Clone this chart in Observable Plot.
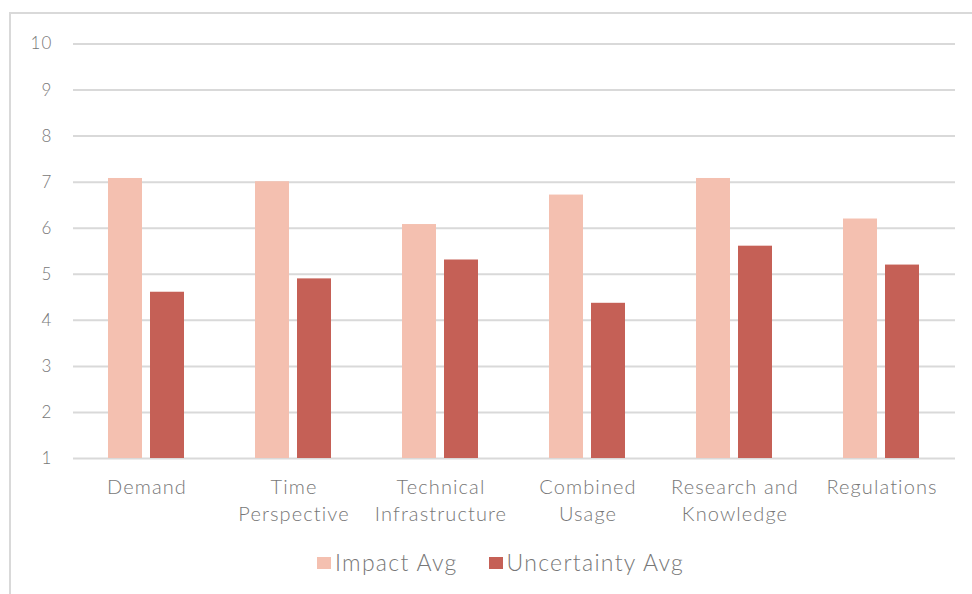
<!DOCTYPE html>
<html>
<head>
<meta charset="utf-8">
<script src="https://cdn.jsdelivr.net/npm/d3@7"></script>
<script src="https://cdn.jsdelivr.net/npm/@observablehq/plot@0.6"></script>
<style>
  html, body { margin: 0; padding: 0; background: #fff; }
  body { width: 972px; height: 594px; position: relative; overflow: hidden; font-family: Lato, "Open Sans", sans-serif; }
  #frame { position: absolute; left: 9px; top: 12px; width: 1000px; height: 700px; border-top: 2px solid #d9d9d9; border-left: 2px solid #d9d9d9; box-sizing: border-box; }
  #chart { position: absolute; left: 0; top: 0; }
  #chart svg text { letter-spacing: 1.1px; }
  #legend { position: absolute; left: 0; top: 540px; width: 1001px; height: 44px; display: flex; justify-content: center; align-items: center; gap: 31px; font-size: 23px; font-weight: 300; color: #777; letter-spacing: 1.3px; }
  .item { display: flex; align-items: center; }
  .sw { width: 14px; height: 12px; margin-right: 4px; margin-top: 2px; }
</style>
</head>
<body>
<div id="frame"></div>
<div id="chart"></div>
<div id="legend"></div>
<script>
const categories = ["Demand", "Time Perspective", "Technical Infrastructure", "Combined Usage", "Research and Knowledge", "Regulations"];
const categoryLabels = ["Demand", "Time\nPerspective", "Technical\nInfrastructure", "Combined\nUsage", "Research and\nKnowledge", "Regulations"];
const series = ["Impact Avg", "Uncertainty Avg"];
const impactAvg = [7.08, 7.01, 6.08, 6.72, 7.08, 6.2];
const uncertaintyAvg = [4.61, 4.9, 5.31, 4.37, 5.61, 5.2];
const yTicks = [1, 2, 3, 4, 5, 6, 7, 8, 9, 10];
const colors = ["#F4C0B0", "#C56056"];

const data = [];
categories.forEach((c, i) => {
  data.push({category: c, series: series[0], value: impactAvg[i]});
  data.push({category: c, series: series[1], value: uncertaintyAvg[i]});
});
const labelOf = Object.fromEntries(categories.map((c, i) => [c, categoryLabels[i]]));

const chart = Plot.plot({
  width: 972,
  height: 540,
  marginTop: 43.5,
  marginBottom: 82,
  marginLeft: 73,
  marginRight: 17,
  style: {fontFamily: "Lato, 'Open Sans', sans-serif", fontWeight: 300, color: "#777", background: "transparent"},
  fx: {domain: categories, padding: 0, label: null},
  x: {domain: series, paddingInner: 0.19, paddingOuter: 0.845, axis: null},
  y: {domain: [1, 10], axis: null},
  color: {domain: series, range: colors},
  marks: [
    Plot.ruleY(yTicks, {y: d => d, stroke: "#d9d9d9", strokeWidth: 2}),
    Plot.barY(data, {fx: "category", x: "series", y1: 1, y2: "value", fill: "series"}),
    Plot.axisY(yTicks, {anchor: "left", tickSize: 0, tickPadding: 21, fontSize: 17, fill: "#777", label: null}),
    Plot.axisFx({anchor: "bottom", tickSize: 0, tickPadding: 16, fontSize: 20, lineHeight: 1.35, fill: "#777", label: null, tickFormat: d => labelOf[d]})
  ]
});
document.getElementById("chart").appendChild(chart);

const legend = document.getElementById("legend");
series.forEach((s, i) => {
  const it = document.createElement("div");
  it.className = "item";
  const sw = document.createElement("span");
  sw.className = "sw";
  sw.style.background = colors[i];
  const t = document.createElement("span");
  t.textContent = s;
  it.appendChild(sw); it.appendChild(t);
  legend.appendChild(it);
});
</script>
</body>
</html>
